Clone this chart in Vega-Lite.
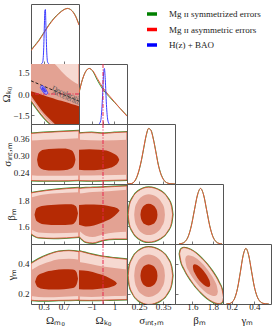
{
"$schema":"https://vega.github.io/schema/vega-lite/v6.json",
"background":"white",
"padding":{"left":0,"top":3,"right":0,"bottom":0},
"columns":5,
"spacing":0,
"bounds":"flush",
"resolve":{"scale":{"x":"independent","y":"independent","color":"independent"},"legend":{"color":"independent"}},
"config":{
 "view":{"stroke":"#555555","strokeWidth":1},
 "axis":{"grid":false,"domain":false,"ticks":true,"tickSize":-3,"tickColor":"#555555","tickWidth":0.8,"labelFont":"Liberation Serif","labelFontSize":9,"labelColor":"#222222","titleFont":"Liberation Serif","titleFontSize":11,"titleFontWeight":"normal","titleColor":"#222222"},
 "axisX":{"labelPadding":1,"titlePadding":3},
 "axisY":{"labelPadding":5,"titlePadding":1}
},
"datasets":{
"c":[
{"p":"mk","l":3,"x":0.05,"lo":-0.45,"hi":2.6},{"p":"mk","l":3,"x":0.15,"lo":-0.95,"hi":2.6},{"p":"mk","l":3,"x":0.25,"lo":-1.42,"hi":2.6},{"p":"mk","l":3,"x":0.35,"lo":-1.82,"hi":2.6},{"p":"mk","l":3,"x":0.45,"lo":-2.15,"hi":2.6},{"p":"mk","l":3,"x":0.55,"lo":-2.45,"hi":2.6},{"p":"mk","l":3,"x":0.65,"lo":-2.7,"hi":2.6},{"p":"mk","l":3,"x":1.0,"lo":-2.7,"hi":2.6},
{"p":"mk","l":2,"x":0.05,"lo":-0.3,"hi":2.6},{"p":"mk","l":2,"x":0.15,"lo":-0.8,"hi":2.6},{"p":"mk","l":2,"x":0.25,"lo":-1.28,"hi":2.6},{"p":"mk","l":2,"x":0.35,"lo":-1.7,"hi":2.5},{"p":"mk","l":2,"x":0.45,"lo":-2.05,"hi":2.3},{"p":"mk","l":2,"x":0.55,"lo":-2.35,"hi":2.0},{"p":"mk","l":2,"x":0.65,"lo":-2.6,"hi":1.6},{"p":"mk","l":2,"x":0.75,"lo":-2.7,"hi":1.25},{"p":"mk","l":2,"x":0.85,"lo":-2.7,"hi":0.97},{"p":"mk","l":2,"x":1.0,"lo":-2.7,"hi":0.65},
{"p":"mk","l":1,"x":0.05,"lo":-0.1,"hi":0.2},{"p":"mk","l":1,"x":0.15,"lo":-0.62,"hi":0.08},{"p":"mk","l":1,"x":0.25,"lo":-1.1,"hi":-0.03},{"p":"mk","l":1,"x":0.35,"lo":-1.5,"hi":-0.15},{"p":"mk","l":1,"x":0.45,"lo":-1.85,"hi":-0.27},{"p":"mk","l":1,"x":0.55,"lo":-2.2,"hi":-0.38},{"p":"mk","l":1,"x":0.65,"lo":-2.5,"hi":-0.48},{"p":"mk","l":1,"x":0.75,"lo":-2.7,"hi":-0.58},{"p":"mk","l":1,"x":0.85,"lo":-2.7,"hi":-0.7},{"p":"mk","l":1,"x":1.0,"lo":-2.7,"hi":-0.85},
{"p":"mkb","l":2,"x":0.235,"lo":0.46,"hi":0.46},{"p":"mkb","l":2,"x":0.25,"lo":0.36,"hi":0.56},{"p":"mkb","l":2,"x":0.27,"lo":0.24,"hi":0.6},{"p":"mkb","l":2,"x":0.29,"lo":0.13,"hi":0.56},{"p":"mkb","l":2,"x":0.32,"lo":0.03,"hi":0.45},{"p":"mkb","l":2,"x":0.35,"lo":-0.02,"hi":0.3},{"p":"mkb","l":2,"x":0.37,"lo":0.0,"hi":0.17},{"p":"mkb","l":2,"x":0.385,"lo":0.07,"hi":0.07},
{"p":"mkb","l":1,"x":0.265,"lo":0.42,"hi":0.42},{"p":"mkb","l":1,"x":0.28,"lo":0.3,"hi":0.48},{"p":"mkb","l":1,"x":0.3,"lo":0.2,"hi":0.42},{"p":"mkb","l":1,"x":0.32,"lo":0.14,"hi":0.33},{"p":"mkb","l":1,"x":0.34,"lo":0.14,"hi":0.2},{"p":"mkb","l":1,"x":0.345,"lo":0.17,"hi":0.17},
{"p":"ms","l":3,"x":0.05,"lo":0.212,"hi":0.377},{"p":"ms","l":3,"x":0.3,"lo":0.211,"hi":0.38},{"p":"ms","l":3,"x":0.6,"lo":0.211,"hi":0.383},{"p":"ms","l":3,"x":1.0,"lo":0.213,"hi":0.386},
{"p":"ms","l":2,"x":0.05,"lo":0.231,"hi":0.352},{"p":"ms","l":2,"x":0.3,"lo":0.229,"hi":0.355},{"p":"ms","l":2,"x":0.6,"lo":0.229,"hi":0.357},{"p":"ms","l":2,"x":1.0,"lo":0.23,"hi":0.36},
{"p":"ms","l":1,"x":0.17,"lo":0.285,"hi":0.285},{"p":"ms","l":1,"x":0.2,"lo":0.262,"hi":0.308},{"p":"ms","l":1,"x":0.3,"lo":0.25,"hi":0.32},{"p":"ms","l":1,"x":0.5,"lo":0.247,"hi":0.323},{"p":"ms","l":1,"x":0.7,"lo":0.248,"hi":0.324},{"p":"ms","l":1,"x":0.85,"lo":0.255,"hi":0.318},{"p":"ms","l":1,"x":0.91,"lo":0.27,"hi":0.302},{"p":"ms","l":1,"x":0.93,"lo":0.285,"hi":0.285},
{"p":"ks","l":3,"x":-2.1,"lo":0.212,"hi":0.378},{"p":"ks","l":3,"x":-1.0,"lo":0.211,"hi":0.38},{"p":"ks","l":3,"x":0.0,"lo":0.212,"hi":0.377},{"p":"ks","l":3,"x":1.0,"lo":0.213,"hi":0.38},{"p":"ks","l":3,"x":2.1,"lo":0.214,"hi":0.382},
{"p":"ks","l":2,"x":-2.1,"lo":0.23,"hi":0.355},{"p":"ks","l":2,"x":0.0,"lo":0.231,"hi":0.352},{"p":"ks","l":2,"x":2.1,"lo":0.232,"hi":0.355},
{"p":"ks","l":1,"x":-2.1,"lo":0.25,"hi":0.32},{"p":"ks","l":1,"x":-1.2,"lo":0.248,"hi":0.322},{"p":"ks","l":1,"x":-0.3,"lo":0.25,"hi":0.32},{"p":"ks","l":1,"x":0.5,"lo":0.255,"hi":0.315},{"p":"ks","l":1,"x":1.0,"lo":0.263,"hi":0.305},{"p":"ks","l":1,"x":1.3,"lo":0.274,"hi":0.295},{"p":"ks","l":1,"x":1.42,"lo":0.285,"hi":0.285},
{"p":"mb","l":3,"x":0.05,"lo":1.54,"hi":1.86},{"p":"mb","l":3,"x":0.2,"lo":1.51,"hi":1.87},{"p":"mb","l":3,"x":0.5,"lo":1.505,"hi":1.885},{"p":"mb","l":3,"x":1.0,"lo":1.515,"hi":1.9},
{"p":"mb","l":2,"x":0.05,"lo":1.575,"hi":1.825},{"p":"mb","l":2,"x":0.2,"lo":1.55,"hi":1.84},{"p":"mb","l":2,"x":0.5,"lo":1.545,"hi":1.855},{"p":"mb","l":2,"x":1.0,"lo":1.55,"hi":1.865},
{"p":"mb","l":1,"x":0.12,"lo":1.69,"hi":1.69},{"p":"mb","l":1,"x":0.16,"lo":1.64,"hi":1.74},{"p":"mb","l":1,"x":0.3,"lo":1.615,"hi":1.76},{"p":"mb","l":1,"x":0.6,"lo":1.608,"hi":1.77},{"p":"mb","l":1,"x":0.85,"lo":1.612,"hi":1.772},{"p":"mb","l":1,"x":0.94,"lo":1.64,"hi":1.755},{"p":"mb","l":1,"x":0.98,"lo":1.7,"hi":1.7},
{"p":"kb","l":3,"x":-2.1,"lo":1.52,"hi":1.895},{"p":"kb","l":3,"x":-1.5,"lo":1.475,"hi":1.9},{"p":"kb","l":3,"x":-0.9,"lo":1.468,"hi":1.902},{"p":"kb","l":3,"x":0.0,"lo":1.49,"hi":1.905},{"p":"kb","l":3,"x":1.0,"lo":1.5,"hi":1.91},{"p":"kb","l":3,"x":2.1,"lo":1.5,"hi":1.915},
{"p":"kb","l":2,"x":-2.1,"lo":1.565,"hi":1.855},{"p":"kb","l":2,"x":-1.5,"lo":1.525,"hi":1.862},{"p":"kb","l":2,"x":-0.9,"lo":1.515,"hi":1.867},{"p":"kb","l":2,"x":0.0,"lo":1.535,"hi":1.872},{"p":"kb","l":2,"x":1.0,"lo":1.55,"hi":1.878},{"p":"kb","l":2,"x":2.1,"lo":1.555,"hi":1.885},
{"p":"kb","l":1,"x":-2.1,"lo":1.61,"hi":1.765},{"p":"kb","l":1,"x":-1.5,"lo":1.598,"hi":1.77},{"p":"kb","l":1,"x":-0.8,"lo":1.605,"hi":1.77},{"p":"kb","l":1,"x":0.0,"lo":1.63,"hi":1.765},{"p":"kb","l":1,"x":0.8,"lo":1.665,"hi":1.752},{"p":"kb","l":1,"x":1.25,"lo":1.7,"hi":1.74},{"p":"kb","l":1,"x":1.45,"lo":1.722,"hi":1.722},
{"p":"sb","l":3,"x":0.205,"lo":1.69,"hi":1.69},{"p":"sb","l":3,"x":0.2093,"lo":1.623,"hi":1.757},{"p":"sb","l":3,"x":0.222,"lo":1.561,"hi":1.819},{"p":"sb","l":3,"x":0.2475,"lo":1.504,"hi":1.876},{"p":"sb","l":3,"x":0.29,"lo":1.475,"hi":1.905},{"p":"sb","l":3,"x":0.34,"lo":1.504,"hi":1.876},{"p":"sb","l":3,"x":0.37,"lo":1.561,"hi":1.819},{"p":"sb","l":3,"x":0.385,"lo":1.623,"hi":1.757},{"p":"sb","l":3,"x":0.39,"lo":1.69,"hi":1.69},
{"p":"sb","l":2,"x":0.23,"lo":1.69,"hi":1.69},{"p":"sb","l":2,"x":0.233,"lo":1.64,"hi":1.74},{"p":"sb","l":2,"x":0.242,"lo":1.594,"hi":1.786},{"p":"sb","l":2,"x":0.26,"lo":1.551,"hi":1.829},{"p":"sb","l":2,"x":0.29,"lo":1.53,"hi":1.85},{"p":"sb","l":2,"x":0.324,"lo":1.551,"hi":1.829},{"p":"sb","l":2,"x":0.344,"lo":1.594,"hi":1.786},{"p":"sb","l":2,"x":0.355,"lo":1.64,"hi":1.74},{"p":"sb","l":2,"x":0.358,"lo":1.69,"hi":1.69},
{"p":"sb","l":1,"x":0.256,"lo":1.69,"hi":1.69},{"p":"sb","l":1,"x":0.258,"lo":1.664,"hi":1.717},{"p":"sb","l":1,"x":0.263,"lo":1.639,"hi":1.741},{"p":"sb","l":1,"x":0.273,"lo":1.616,"hi":1.764},{"p":"sb","l":1,"x":0.29,"lo":1.605,"hi":1.775},{"p":"sb","l":1,"x":0.3085,"lo":1.616,"hi":1.764},{"p":"sb","l":1,"x":0.3196,"lo":1.639,"hi":1.741},{"p":"sb","l":1,"x":0.3252,"lo":1.664,"hi":1.717},{"p":"sb","l":1,"x":0.327,"lo":1.69,"hi":1.69},
{"p":"mg","l":3,"x":0.05,"lo":0.158,"hi":0.4},{"p":"mg","l":3,"x":0.2,"lo":0.155,"hi":0.43},{"p":"mg","l":3,"x":0.4,"lo":0.155,"hi":0.46},{"p":"mg","l":3,"x":0.6,"lo":0.157,"hi":0.48},{"p":"mg","l":3,"x":0.8,"lo":0.158,"hi":0.485},{"p":"mg","l":3,"x":1.0,"lo":0.16,"hi":0.478},
{"p":"mg","l":2,"x":0.05,"lo":0.185,"hi":0.355},{"p":"mg","l":2,"x":0.2,"lo":0.18,"hi":0.385},{"p":"mg","l":2,"x":0.4,"lo":0.178,"hi":0.41},{"p":"mg","l":2,"x":0.6,"lo":0.18,"hi":0.428},{"p":"mg","l":2,"x":0.8,"lo":0.182,"hi":0.432},{"p":"mg","l":2,"x":1.0,"lo":0.185,"hi":0.425},
{"p":"mg","l":1,"x":0.13,"lo":0.28,"hi":0.28},{"p":"mg","l":1,"x":0.18,"lo":0.245,"hi":0.32},{"p":"mg","l":1,"x":0.3,"lo":0.232,"hi":0.34},{"p":"mg","l":1,"x":0.5,"lo":0.228,"hi":0.355},{"p":"mg","l":1,"x":0.7,"lo":0.23,"hi":0.362},{"p":"mg","l":1,"x":0.88,"lo":0.238,"hi":0.36},{"p":"mg","l":1,"x":0.95,"lo":0.26,"hi":0.345},{"p":"mg","l":1,"x":0.98,"lo":0.3,"hi":0.3},
{"p":"kg","l":3,"x":-2.1,"lo":0.158,"hi":0.483},{"p":"kg","l":3,"x":-1.2,"lo":0.157,"hi":0.465},{"p":"kg","l":3,"x":-0.3,"lo":0.158,"hi":0.45},{"p":"kg","l":3,"x":0.6,"lo":0.16,"hi":0.44},{"p":"kg","l":3,"x":2.1,"lo":0.162,"hi":0.428},
{"p":"kg","l":2,"x":-2.1,"lo":0.182,"hi":0.41},{"p":"kg","l":2,"x":-1.0,"lo":0.18,"hi":0.395},{"p":"kg","l":2,"x":0.0,"lo":0.182,"hi":0.38},{"p":"kg","l":2,"x":1.0,"lo":0.185,"hi":0.37},{"p":"kg","l":2,"x":2.1,"lo":0.188,"hi":0.36},
{"p":"kg","l":1,"x":-2.1,"lo":0.23,"hi":0.355},{"p":"kg","l":1,"x":-1.3,"lo":0.228,"hi":0.35},{"p":"kg","l":1,"x":-0.5,"lo":0.232,"hi":0.335},{"p":"kg","l":1,"x":0.3,"lo":0.238,"hi":0.315},{"p":"kg","l":1,"x":0.8,"lo":0.248,"hi":0.295},{"p":"kg","l":1,"x":1.1,"lo":0.258,"hi":0.28},{"p":"kg","l":1,"x":1.22,"lo":0.268,"hi":0.268},
{"p":"sg","l":3,"x":0.205,"lo":0.32,"hi":0.32},{"p":"sg","l":3,"x":0.2093,"lo":0.2607,"hi":0.3793},{"p":"sg","l":3,"x":0.222,"lo":0.206,"hi":0.434},{"p":"sg","l":3,"x":0.2475,"lo":0.1555,"hi":0.4845},{"p":"sg","l":3,"x":0.29,"lo":0.13,"hi":0.51},{"p":"sg","l":3,"x":0.34,"lo":0.1555,"hi":0.4845},{"p":"sg","l":3,"x":0.37,"lo":0.206,"hi":0.434},{"p":"sg","l":3,"x":0.385,"lo":0.2607,"hi":0.3793},{"p":"sg","l":3,"x":0.39,"lo":0.32,"hi":0.32},
{"p":"sg","l":2,"x":0.23,"lo":0.32,"hi":0.32},{"p":"sg","l":2,"x":0.233,"lo":0.2763,"hi":0.3637},{"p":"sg","l":2,"x":0.242,"lo":0.236,"hi":0.404},{"p":"sg","l":2,"x":0.26,"lo":0.1988,"hi":0.4412},{"p":"sg","l":2,"x":0.29,"lo":0.18,"hi":0.46},{"p":"sg","l":2,"x":0.324,"lo":0.1988,"hi":0.4412},{"p":"sg","l":2,"x":0.344,"lo":0.236,"hi":0.404},{"p":"sg","l":2,"x":0.355,"lo":0.2763,"hi":0.3637},{"p":"sg","l":2,"x":0.358,"lo":0.32,"hi":0.32},
{"p":"sg","l":1,"x":0.256,"lo":0.32,"hi":0.32},{"p":"sg","l":1,"x":0.258,"lo":0.2966,"hi":0.3434},{"p":"sg","l":1,"x":0.263,"lo":0.275,"hi":0.365},{"p":"sg","l":1,"x":0.273,"lo":0.255,"hi":0.385},{"p":"sg","l":1,"x":0.29,"lo":0.245,"hi":0.395},{"p":"sg","l":1,"x":0.3085,"lo":0.255,"hi":0.385},{"p":"sg","l":1,"x":0.3196,"lo":0.275,"hi":0.365},{"p":"sg","l":1,"x":0.3252,"lo":0.2966,"hi":0.3434},{"p":"sg","l":1,"x":0.327,"lo":0.32,"hi":0.32},
{"p":"bg","l":3,"x":1.475,"lo":0.464,"hi":0.464},{"p":"bg","l":3,"x":1.486,"lo":0.421,"hi":0.493},{"p":"bg","l":3,"x":1.518,"lo":0.366,"hi":0.505},{"p":"bg","l":3,"x":1.5825,"lo":0.292,"hi":0.4925},{"p":"bg","l":3,"x":1.69,"lo":0.204,"hi":0.436},{"p":"bg","l":3,"x":1.7975,"lo":0.148,"hi":0.348},{"p":"bg","l":3,"x":1.862,"lo":0.135,"hi":0.274},{"p":"bg","l":3,"x":1.894,"lo":0.147,"hi":0.219},{"p":"bg","l":3,"x":1.905,"lo":0.176,"hi":0.176},
{"p":"bg","l":2,"x":1.53,"lo":0.425,"hi":0.425},{"p":"bg","l":2,"x":1.538,"lo":0.394,"hi":0.446},{"p":"bg","l":2,"x":1.562,"lo":0.3535,"hi":0.455},{"p":"bg","l":2,"x":1.61,"lo":0.2995,"hi":0.446},{"p":"bg","l":2,"x":1.69,"lo":0.2355,"hi":0.4045},{"p":"bg","l":2,"x":1.77,"lo":0.194,"hi":0.34},{"p":"bg","l":2,"x":1.818,"lo":0.185,"hi":0.2865},{"p":"bg","l":2,"x":1.842,"lo":0.194,"hi":0.246},{"p":"bg","l":2,"x":1.85,"lo":0.215,"hi":0.215},
{"p":"bg","l":1,"x":1.605,"lo":0.3785,"hi":0.3785},{"p":"bg","l":1,"x":1.609,"lo":0.361,"hi":0.39},{"p":"bg","l":1,"x":1.622,"lo":0.3386,"hi":0.395},{"p":"bg","l":1,"x":1.6475,"lo":0.3086,"hi":0.39},{"p":"bg","l":1,"x":1.69,"lo":0.273,"hi":0.367},{"p":"bg","l":1,"x":1.7325,"lo":0.25,"hi":0.3315},{"p":"bg","l":1,"x":1.758,"lo":0.245,"hi":0.3014},{"p":"bg","l":1,"x":1.771,"lo":0.2498,"hi":0.279},{"p":"bg","l":1,"x":1.775,"lo":0.2615,"hi":0.2615}
],
"d":[
{"p":"m","s":"g","x":0.05,"y":0.25},{"p":"m","s":"g","x":0.12,"y":0.33},{"p":"m","s":"g","x":0.2,"y":0.42},{"p":"m","s":"g","x":0.3,"y":0.56},{"p":"m","s":"g","x":0.4,"y":0.7},{"p":"m","s":"g","x":0.5,"y":0.82},{"p":"m","s":"g","x":0.6,"y":0.91},{"p":"m","s":"g","x":0.7,"y":0.98},{"p":"m","s":"g","x":0.77,"y":1.0},{"p":"m","s":"g","x":0.85,"y":0.97},{"p":"m","s":"g","x":0.93,"y":0.87},{"p":"m","s":"g","x":1.0,"y":0.71},
{"p":"m","s":"r","x":0.05,"y":0.24},{"p":"m","s":"r","x":0.12,"y":0.32},{"p":"m","s":"r","x":0.2,"y":0.41},{"p":"m","s":"r","x":0.3,"y":0.55},{"p":"m","s":"r","x":0.4,"y":0.69},{"p":"m","s":"r","x":0.5,"y":0.81},{"p":"m","s":"r","x":0.6,"y":0.905},{"p":"m","s":"r","x":0.7,"y":0.975},{"p":"m","s":"r","x":0.77,"y":1.0},{"p":"m","s":"r","x":0.85,"y":0.965},{"p":"m","s":"r","x":0.93,"y":0.86},{"p":"m","s":"r","x":1.0,"y":0.7},
{"p":"m","s":"b","x":0.25,"y":0},{"p":"m","s":"b","x":0.28,"y":0.03},{"p":"m","s":"b","x":0.3,"y":0.25},{"p":"m","s":"b","x":0.315,"y":0.7},{"p":"m","s":"b","x":0.325,"y":0.97},{"p":"m","s":"b","x":0.335,"y":0.98},{"p":"m","s":"b","x":0.345,"y":0.7},{"p":"m","s":"b","x":0.36,"y":0.25},{"p":"m","s":"b","x":0.38,"y":0.03},{"p":"m","s":"b","x":0.41,"y":0},
{"p":"k","s":"g","x":-2.1,"y":0.56},{"p":"k","s":"g","x":-1.8,"y":0.8},{"p":"k","s":"g","x":-1.5,"y":0.95},{"p":"k","s":"g","x":-1.2,"y":1.0},{"p":"k","s":"g","x":-0.9,"y":0.95},{"p":"k","s":"g","x":-0.5,"y":0.79},{"p":"k","s":"g","x":0.0,"y":0.62},{"p":"k","s":"g","x":0.5,"y":0.5},{"p":"k","s":"g","x":1.0,"y":0.39},{"p":"k","s":"g","x":1.5,"y":0.28},{"p":"k","s":"g","x":2.1,"y":0.15},
{"p":"k","s":"r","x":-2.1,"y":0.56},{"p":"k","s":"r","x":-1.8,"y":0.8},{"p":"k","s":"r","x":-1.5,"y":0.95},{"p":"k","s":"r","x":-1.2,"y":1.0},{"p":"k","s":"r","x":-0.9,"y":0.96},{"p":"k","s":"r","x":-0.5,"y":0.82},{"p":"k","s":"r","x":0.0,"y":0.65},{"p":"k","s":"r","x":0.5,"y":0.52},{"p":"k","s":"r","x":1.0,"y":0.4},{"p":"k","s":"r","x":1.5,"y":0.28},{"p":"k","s":"r","x":2.1,"y":0.14},
{"p":"k","s":"b","x":-0.35,"y":0},{"p":"k","s":"b","x":-0.2,"y":0.06},{"p":"k","s":"b","x":-0.05,"y":0.45},{"p":"k","s":"b","x":0.05,"y":0.9},{"p":"k","s":"b","x":0.12,"y":1.0},{"p":"k","s":"b","x":0.2,"y":0.8},{"p":"k","s":"b","x":0.3,"y":0.35},{"p":"k","s":"b","x":0.42,"y":0.07},{"p":"k","s":"b","x":0.55,"y":0},
{"p":"s","s":"g","x":0.2,"y":0},{"p":"s","s":"g","x":0.22,"y":0.01},{"p":"s","s":"g","x":0.24,"y":0.11},{"p":"s","s":"g","x":0.25,"y":0.24},{"p":"s","s":"g","x":0.26,"y":0.42},{"p":"s","s":"g","x":0.27,"y":0.65},{"p":"s","s":"g","x":0.28,"y":0.87},{"p":"s","s":"g","x":0.29,"y":1.0},{"p":"s","s":"g","x":0.3,"y":0.97},{"p":"s","s":"g","x":0.31,"y":0.81},{"p":"s","s":"g","x":0.32,"y":0.59},{"p":"s","s":"g","x":0.33,"y":0.36},{"p":"s","s":"g","x":0.34,"y":0.2},{"p":"s","s":"g","x":0.35,"y":0.1},{"p":"s","s":"g","x":0.36,"y":0.04},{"p":"s","s":"g","x":0.38,"y":0.006},{"p":"s","s":"g","x":0.4,"y":0},
{"p":"s","s":"r","x":0.2,"y":0},{"p":"s","s":"r","x":0.22,"y":0.01},{"p":"s","s":"r","x":0.24,"y":0.12},{"p":"s","s":"r","x":0.25,"y":0.25},{"p":"s","s":"r","x":0.26,"y":0.43},{"p":"s","s":"r","x":0.27,"y":0.66},{"p":"s","s":"r","x":0.28,"y":0.88},{"p":"s","s":"r","x":0.29,"y":1.0},{"p":"s","s":"r","x":0.3,"y":0.96},{"p":"s","s":"r","x":0.31,"y":0.8},{"p":"s","s":"r","x":0.32,"y":0.58},{"p":"s","s":"r","x":0.33,"y":0.35},{"p":"s","s":"r","x":0.34,"y":0.19},{"p":"s","s":"r","x":0.35,"y":0.09},{"p":"s","s":"r","x":0.36,"y":0.04},{"p":"s","s":"r","x":0.38,"y":0.005},{"p":"s","s":"r","x":0.4,"y":0},
{"p":"b","s":"g","x":1.47,"y":0.003},{"p":"b","s":"g","x":1.5,"y":0.013},{"p":"b","s":"g","x":1.53,"y":0.048},{"p":"b","s":"g","x":1.56,"y":0.14},{"p":"b","s":"g","x":1.59,"y":0.33},{"p":"b","s":"g","x":1.62,"y":0.61},{"p":"b","s":"g","x":1.65,"y":0.88},{"p":"b","s":"g","x":1.68,"y":1.0},{"p":"b","s":"g","x":1.71,"y":0.885},{"p":"b","s":"g","x":1.74,"y":0.61},{"p":"b","s":"g","x":1.77,"y":0.33},{"p":"b","s":"g","x":1.8,"y":0.14},{"p":"b","s":"g","x":1.83,"y":0.047},{"p":"b","s":"g","x":1.86,"y":0.012},{"p":"b","s":"g","x":1.89,"y":0.003},
{"p":"b","s":"r","x":1.47,"y":0.002},{"p":"b","s":"r","x":1.5,"y":0.011},{"p":"b","s":"r","x":1.53,"y":0.044},{"p":"b","s":"r","x":1.56,"y":0.135},{"p":"b","s":"r","x":1.59,"y":0.325},{"p":"b","s":"r","x":1.62,"y":0.607},{"p":"b","s":"r","x":1.65,"y":0.882},{"p":"b","s":"r","x":1.68,"y":1.0},{"p":"b","s":"r","x":1.71,"y":0.882},{"p":"b","s":"r","x":1.74,"y":0.607},{"p":"b","s":"r","x":1.77,"y":0.325},{"p":"b","s":"r","x":1.8,"y":0.135},{"p":"b","s":"r","x":1.83,"y":0.044},{"p":"b","s":"r","x":1.86,"y":0.011},{"p":"b","s":"r","x":1.89,"y":0.002},
{"p":"g","s":"g","x":0.15,"y":0.002},{"p":"g","s":"g","x":0.175,"y":0.007},{"p":"g","s":"g","x":0.2,"y":0.031},{"p":"g","s":"g","x":0.225,"y":0.107},{"p":"g","s":"g","x":0.25,"y":0.283},{"p":"g","s":"g","x":0.275,"y":0.57},{"p":"g","s":"g","x":0.3,"y":0.87},{"p":"g","s":"g","x":0.325,"y":1.0},{"p":"g","s":"g","x":0.35,"y":0.875},{"p":"g","s":"g","x":0.375,"y":0.595},{"p":"g","s":"g","x":0.4,"y":0.315},{"p":"g","s":"g","x":0.425,"y":0.138},{"p":"g","s":"g","x":0.45,"y":0.05},{"p":"g","s":"g","x":0.475,"y":0.016},{"p":"g","s":"g","x":0.5,"y":0.004},{"p":"g","s":"g","x":0.53,"y":0},
{"p":"g","s":"r","x":0.15,"y":0.001},{"p":"g","s":"r","x":0.175,"y":0.006},{"p":"g","s":"r","x":0.2,"y":0.029},{"p":"g","s":"r","x":0.225,"y":0.104},{"p":"g","s":"r","x":0.25,"y":0.279},{"p":"g","s":"r","x":0.275,"y":0.567},{"p":"g","s":"r","x":0.3,"y":0.868},{"p":"g","s":"r","x":0.325,"y":1.0},{"p":"g","s":"r","x":0.35,"y":0.88},{"p":"g","s":"r","x":0.375,"y":0.6},{"p":"g","s":"r","x":0.4,"y":0.32},{"p":"g","s":"r","x":0.425,"y":0.14},{"p":"g","s":"r","x":0.45,"y":0.05},{"p":"g","s":"r","x":0.475,"y":0.015},{"p":"g","s":"r","x":0.5,"y":0.004},{"p":"g","s":"r","x":0.53,"y":0}
]
},
"concat":[
{"width":48,"height":60,"data":{"name":"d"},"transform":[{"filter":"datum.p=='m'"}],"mark":{"type":"line","interpolate":"monotone","strokeWidth":1,"clip":true},"encoding":{"x":{"field":"x","type":"quantitative","scale":{"domain":[0.05,1.0],"nice":false,"zero":false},"axis":{"values":[0.3,0.7],"labels":false,"title":null}},"y":{"field":"y","type":"quantitative","scale":{"domain":[0,1.08],"nice":false},"axis":null},"stroke":{"field":"s","type":"nominal","scale":{"domain":["g","r","b"],"range":["#3c9b3c","#e8573c","#3b3bff"]},"legend":null}}},
{"width":48,"height":60,"view":{"stroke":null},"data":{"values":[]},"mark":"point"},
{"width":48,"height":60,"view":{"stroke":null},"data":{"values":[{"s":"Mg ɪɪ symmetrized errors"},{"s":"Mg ɪɪ asymmetric errors"},{"s":"H(z) + BAO"}]},"mark":{"type":"point","filled":true,"opacity":0},"encoding":{"color":{"field":"s","type":"nominal","scale":{"domain":["Mg ɪɪ symmetrized errors","Mg ɪɪ asymmetric errors","H(z) + BAO"],"range":["#008000","#ff0000","#0000ff"]},"legend":{"orient":"none","legendX":20,"legendY":5,"title":null,"symbolType":"M-1,-0.35L1,-0.35L1,0.35L-1,0.35Z","symbolSize":100,"symbolOpacity":1,"symbolStrokeWidth":0,"labelFont":"Liberation Serif","labelFontSize":9,"labelColor":"#222222","labelOffset":12,"rowPadding":5.5,"padding":0,"labelLimit":200}}}},
{"width":48,"height":60,"view":{"stroke":null},"data":{"values":[]},"mark":"point"},
{"width":48,"height":60,"view":{"stroke":null},"data":{"values":[]},"mark":"point"},

{"width":48,"height":60,"data":{"name":"c"},"layer":[
{"transform":[{"filter":"datum.p=='mk' && datum.l==3"}],"mark":{"type":"area","clip":true,"interpolate":"monotone","fill":"transparent","stroke":"#3a9a3a","strokeWidth":2},"encoding":{"x":{"field":"x","type":"quantitative","scale":{"domain":[0.05,1.0],"nice":false,"zero":false},"axis":{"values":[0.3,0.7],"labels":false,"title":null}},"y":{"field":"lo","type":"quantitative","stack":null,"scale":{"domain":[-2.1,2.1],"nice":false,"zero":false},"axis":{"values":[-1.5,0,1.5],"format":".1f","title":"Ωₖ₀"}},"y2":{"field":"hi"}}},
{"transform":[{"filter":"datum.p=='mk'"}],"mark":{"type":"area","clip":true,"interpolate":"monotone","strokeWidth":0.8},"encoding":{"x":{"field":"x","type":"quantitative","scale":{"domain":[0.05,1.0],"nice":false,"zero":false},"axis":{"values":[0.3,0.7],"labels":false,"title":null}},"y":{"field":"lo","type":"quantitative","stack":null,"scale":{"domain":[-2.1,2.1],"nice":false,"zero":false},"axis":{"values":[-1.5,0,1.5],"format":".1f","title":"Ωₖ₀"}},"y2":{"field":"hi"},"fill":{"field":"l","type":"nominal","scale":{"domain":[3,2,1],"range":["#f6d9d1","#e3a293","#b52a04"]},"legend":null},"stroke":{"condition":{"test":"datum.l==3","value":"#d9452b"},"value":"transparent"}}},
{"data":{"values":[{"v":0}]},"mark":{"type":"rule","stroke":"#e8264f","strokeWidth":1,"strokeDash":[4,1.5,1,1.5]},"encoding":{"y":{"field":"v","type":"quantitative","scale":{"domain":[-2.1,2.1],"nice":false,"zero":false},"axis":{"values":[-1.5,0,1.5],"format":".1f","title":"Ωₖ₀"}}}},
{"data":{"values":[{"x":0.05,"y":0.925},{"x":1.0,"y":-0.5}]},"mark":{"type":"line","stroke":"#111111","strokeWidth":0.9,"strokeDash":[3,2],"clip":true},"encoding":{"x":{"field":"x","type":"quantitative","scale":{"domain":[0.05,1.0],"nice":false,"zero":false},"axis":{"values":[0.3,0.7],"labels":false,"title":null}},"y":{"field":"y","type":"quantitative","scale":{"domain":[-2.1,2.1],"nice":false,"zero":false},"axis":{"values":[-1.5,0,1.5],"format":".1f","title":"Ωₖ₀"}}}},
{"data":{"values":[{"x":0.47,"y":0.42,"t":"Decelerating"},{"x":0.47,"y":0.18,"t":"Accelerating"}]},"mark":{"type":"text","angle":23,"align":"left","baseline":"middle","fontSize":7,"font":"Liberation Serif","fill":"#555555","clip":true},"encoding":{"x":{"field":"x","type":"quantitative","scale":{"domain":[0.05,1.0],"nice":false,"zero":false},"axis":{"values":[0.3,0.7],"labels":false,"title":null}},"y":{"field":"y","type":"quantitative","scale":{"domain":[-2.1,2.1],"nice":false,"zero":false},"axis":{"values":[-1.5,0,1.5],"format":".1f","title":"Ωₖ₀"}},"text":{"field":"t"}}},
{"transform":[{"filter":"datum.p=='mkb'"}],"mark":{"type":"area","clip":true,"interpolate":"monotone","stroke":"#2424ff","strokeWidth":0.7},"encoding":{"x":{"field":"x","type":"quantitative","scale":{"domain":[0.05,1.0],"nice":false,"zero":false},"axis":{"values":[0.3,0.7],"labels":false,"title":null}},"y":{"field":"lo","type":"quantitative","stack":null,"scale":{"domain":[-2.1,2.1],"nice":false,"zero":false},"axis":{"values":[-1.5,0,1.5],"format":".1f","title":"Ωₖ₀"}},"y2":{"field":"hi"},"detail":{"field":"l"},"fill":{"condition":{"test":"datum.l==2","value":"#b4a9ee"},"value":"#5a4fe6"}}}
]},
{"width":48,"height":60,"data":{"name":"d"},"layer":[
{"transform":[{"filter":"datum.p=='k'"}],"mark":{"type":"line","interpolate":"monotone","strokeWidth":1,"clip":true},"encoding":{"x":{"field":"x","type":"quantitative","scale":{"domain":[-2.1,2.1],"nice":false,"zero":false},"axis":{"values":[-1,0,1],"labels":false,"title":null}},"y":{"field":"y","type":"quantitative","scale":{"domain":[0,1.08],"nice":false},"axis":null},"stroke":{"field":"s","type":"nominal","scale":{"domain":["g","r","b"],"range":["#3c9b3c","#e8573c","#3b3bff"]},"legend":null}}},
{"data":{"values":[{"v":0}]},"mark":{"type":"rule","stroke":"#e8264f","strokeWidth":1,"strokeDash":[4,1.5,1,1.5]},"encoding":{"x":{"field":"v","type":"quantitative","scale":{"domain":[-2.1,2.1],"nice":false,"zero":false},"axis":{"values":[-1,0,1],"labels":false,"title":null}}}}
]},
{"width":48,"height":60,"view":{"stroke":null},"data":{"values":[]},"mark":"point"},
{"width":48,"height":60,"view":{"stroke":null},"data":{"values":[]},"mark":"point"},
{"width":48,"height":60,"view":{"stroke":null},"data":{"values":[]},"mark":"point"},

{"width":48,"height":60,"data":{"name":"c"},"layer":[
{"transform":[{"filter":"datum.p=='ms' && datum.l==3"}],"mark":{"type":"area","clip":true,"interpolate":"monotone","fill":"transparent","stroke":"#3a9a3a","strokeWidth":2},"encoding":{"x":{"field":"x","type":"quantitative","scale":{"domain":[0.05,1.0],"nice":false,"zero":false},"axis":{"values":[0.3,0.7],"labels":false,"title":null}},"y":{"field":"lo","type":"quantitative","stack":null,"scale":{"domain":[0.2,0.41],"nice":false,"zero":false},"axis":{"values":[0.24,0.3,0.36],"format":".2f","title":"σᵢₙₜ,ₘ"}},"y2":{"field":"hi"}}},
{"transform":[{"filter":"datum.p=='ms'"}],"mark":{"type":"area","clip":true,"interpolate":"monotone","strokeWidth":0.8},"encoding":{"x":{"field":"x","type":"quantitative","scale":{"domain":[0.05,1.0],"nice":false,"zero":false},"axis":{"values":[0.3,0.7],"labels":false,"title":null}},"y":{"field":"lo","type":"quantitative","stack":null,"scale":{"domain":[0.2,0.41],"nice":false,"zero":false},"axis":{"values":[0.24,0.3,0.36],"format":".2f","title":"σᵢₙₜ,ₘ"}},"y2":{"field":"hi"},"fill":{"field":"l","type":"nominal","scale":{"domain":[3,2,1],"range":["#f6d9d1","#e3a293","#b52a04"]},"legend":null},"stroke":{"condition":{"test":"datum.l==3","value":"#d9452b"},"value":"transparent"}}}
]},
{"width":48,"height":60,"data":{"name":"c"},"layer":[
{"transform":[{"filter":"datum.p=='ks' && datum.l==3"}],"mark":{"type":"area","clip":true,"interpolate":"monotone","fill":"transparent","stroke":"#3a9a3a","strokeWidth":2},"encoding":{"x":{"field":"x","type":"quantitative","scale":{"domain":[-2.1,2.1],"nice":false,"zero":false},"axis":{"values":[-1,0,1],"labels":false,"title":null}},"y":{"field":"lo","type":"quantitative","stack":null,"scale":{"domain":[0.2,0.41],"nice":false,"zero":false},"axis":{"values":[0.24,0.3,0.36],"labels":false,"title":null}},"y2":{"field":"hi"}}},
{"transform":[{"filter":"datum.p=='ks'"}],"mark":{"type":"area","clip":true,"interpolate":"monotone","strokeWidth":0.8},"encoding":{"x":{"field":"x","type":"quantitative","scale":{"domain":[-2.1,2.1],"nice":false,"zero":false},"axis":{"values":[-1,0,1],"labels":false,"title":null}},"y":{"field":"lo","type":"quantitative","stack":null,"scale":{"domain":[0.2,0.41],"nice":false,"zero":false},"axis":{"values":[0.24,0.3,0.36],"labels":false,"title":null}},"y2":{"field":"hi"},"fill":{"field":"l","type":"nominal","scale":{"domain":[3,2,1],"range":["#f6d9d1","#e3a293","#b52a04"]},"legend":null},"stroke":{"condition":{"test":"datum.l==3","value":"#d9452b"},"value":"transparent"}}},
{"data":{"values":[{"v":0}]},"mark":{"type":"rule","stroke":"#e8264f","strokeWidth":1,"strokeDash":[4,1.5,1,1.5]},"encoding":{"x":{"field":"v","type":"quantitative","scale":{"domain":[-2.1,2.1],"nice":false,"zero":false},"axis":{"values":[-1,0,1],"labels":false,"title":null}}}}
]},
{"width":48,"height":60,"data":{"name":"d"},"transform":[{"filter":"datum.p=='s'"}],"mark":{"type":"line","interpolate":"monotone","strokeWidth":1,"clip":true},"encoding":{"x":{"field":"x","type":"quantitative","scale":{"domain":[0.2,0.4],"nice":false,"zero":false},"axis":{"values":[0.25,0.35],"labels":false,"title":null}},"y":{"field":"y","type":"quantitative","scale":{"domain":[0,1.08],"nice":false},"axis":null},"stroke":{"field":"s","type":"nominal","scale":{"domain":["g","r","b"],"range":["#3c9b3c","#e8573c","#3b3bff"]},"legend":null}}},
{"width":48,"height":60,"view":{"stroke":null},"data":{"values":[]},"mark":"point"},
{"width":48,"height":60,"view":{"stroke":null},"data":{"values":[]},"mark":"point"},

{"width":48,"height":60,"data":{"name":"c"},"layer":[
{"transform":[{"filter":"datum.p=='mb' && datum.l==3"}],"mark":{"type":"area","clip":true,"interpolate":"monotone","fill":"transparent","stroke":"#3a9a3a","strokeWidth":2},"encoding":{"x":{"field":"x","type":"quantitative","scale":{"domain":[0.05,1.0],"nice":false,"zero":false},"axis":{"values":[0.3,0.7],"labels":false,"title":null}},"y":{"field":"lo","type":"quantitative","stack":null,"scale":{"domain":[1.46,1.93],"nice":false,"zero":false},"axis":{"values":[1.6,1.8],"format":".1f","title":"βₘ"}},"y2":{"field":"hi"}}},
{"transform":[{"filter":"datum.p=='mb'"}],"mark":{"type":"area","clip":true,"interpolate":"monotone","strokeWidth":0.8},"encoding":{"x":{"field":"x","type":"quantitative","scale":{"domain":[0.05,1.0],"nice":false,"zero":false},"axis":{"values":[0.3,0.7],"labels":false,"title":null}},"y":{"field":"lo","type":"quantitative","stack":null,"scale":{"domain":[1.46,1.93],"nice":false,"zero":false},"axis":{"values":[1.6,1.8],"format":".1f","title":"βₘ"}},"y2":{"field":"hi"},"fill":{"field":"l","type":"nominal","scale":{"domain":[3,2,1],"range":["#f6d9d1","#e3a293","#b52a04"]},"legend":null},"stroke":{"condition":{"test":"datum.l==3","value":"#d9452b"},"value":"transparent"}}}
]},
{"width":48,"height":60,"data":{"name":"c"},"layer":[
{"transform":[{"filter":"datum.p=='kb' && datum.l==3"}],"mark":{"type":"area","clip":true,"interpolate":"monotone","fill":"transparent","stroke":"#3a9a3a","strokeWidth":2},"encoding":{"x":{"field":"x","type":"quantitative","scale":{"domain":[-2.1,2.1],"nice":false,"zero":false},"axis":{"values":[-1,0,1],"labels":false,"title":null}},"y":{"field":"lo","type":"quantitative","stack":null,"scale":{"domain":[1.46,1.93],"nice":false,"zero":false},"axis":{"values":[1.6,1.8],"labels":false,"title":null}},"y2":{"field":"hi"}}},
{"transform":[{"filter":"datum.p=='kb'"}],"mark":{"type":"area","clip":true,"interpolate":"monotone","strokeWidth":0.8},"encoding":{"x":{"field":"x","type":"quantitative","scale":{"domain":[-2.1,2.1],"nice":false,"zero":false},"axis":{"values":[-1,0,1],"labels":false,"title":null}},"y":{"field":"lo","type":"quantitative","stack":null,"scale":{"domain":[1.46,1.93],"nice":false,"zero":false},"axis":{"values":[1.6,1.8],"labels":false,"title":null}},"y2":{"field":"hi"},"fill":{"field":"l","type":"nominal","scale":{"domain":[3,2,1],"range":["#f6d9d1","#e3a293","#b52a04"]},"legend":null},"stroke":{"condition":{"test":"datum.l==3","value":"#d9452b"},"value":"transparent"}}},
{"data":{"values":[{"v":0}]},"mark":{"type":"rule","stroke":"#e8264f","strokeWidth":1,"strokeDash":[4,1.5,1,1.5]},"encoding":{"x":{"field":"v","type":"quantitative","scale":{"domain":[-2.1,2.1],"nice":false,"zero":false},"axis":{"values":[-1,0,1],"labels":false,"title":null}}}}
]},
{"width":48,"height":60,"data":{"name":"c"},"layer":[
{"transform":[{"filter":"datum.p=='sb' && datum.l==3"}],"mark":{"type":"area","clip":true,"interpolate":"monotone","fill":"transparent","stroke":"#3a9a3a","strokeWidth":2},"encoding":{"x":{"field":"x","type":"quantitative","scale":{"domain":[0.2,0.4],"nice":false,"zero":false},"axis":{"values":[0.25,0.35],"labels":false,"title":null}},"y":{"field":"lo","type":"quantitative","stack":null,"scale":{"domain":[1.46,1.93],"nice":false,"zero":false},"axis":{"values":[1.6,1.8],"labels":false,"title":null}},"y2":{"field":"hi"}}},
{"transform":[{"filter":"datum.p=='sb'"}],"mark":{"type":"area","clip":true,"interpolate":"monotone","strokeWidth":0.8},"encoding":{"x":{"field":"x","type":"quantitative","scale":{"domain":[0.2,0.4],"nice":false,"zero":false},"axis":{"values":[0.25,0.35],"labels":false,"title":null}},"y":{"field":"lo","type":"quantitative","stack":null,"scale":{"domain":[1.46,1.93],"nice":false,"zero":false},"axis":{"values":[1.6,1.8],"labels":false,"title":null}},"y2":{"field":"hi"},"fill":{"field":"l","type":"nominal","scale":{"domain":[3,2,1],"range":["#f6d9d1","#e3a293","#b52a04"]},"legend":null},"stroke":{"condition":{"test":"datum.l==3","value":"#d9452b"},"value":"transparent"}}}
]},
{"width":48,"height":60,"data":{"name":"d"},"transform":[{"filter":"datum.p=='b'"}],"mark":{"type":"line","interpolate":"monotone","strokeWidth":1,"clip":true},"encoding":{"x":{"field":"x","type":"quantitative","scale":{"domain":[1.43,1.9],"nice":false,"zero":false},"axis":{"values":[1.6,1.8],"labels":false,"title":null}},"y":{"field":"y","type":"quantitative","scale":{"domain":[0,1.08],"nice":false},"axis":null},"stroke":{"field":"s","type":"nominal","scale":{"domain":["g","r","b"],"range":["#3c9b3c","#e8573c","#3b3bff"]},"legend":null}}},
{"width":48,"height":60,"view":{"stroke":null},"data":{"values":[]},"mark":"point"},

{"width":48,"height":60,"data":{"name":"c"},"layer":[
{"transform":[{"filter":"datum.p=='mg' && datum.l==3"}],"mark":{"type":"area","clip":true,"interpolate":"monotone","fill":"transparent","stroke":"#3a9a3a","strokeWidth":2},"encoding":{"x":{"field":"x","type":"quantitative","scale":{"domain":[0.05,1.0],"nice":false,"zero":false},"axis":{"values":[0.3,0.7],"format":".1f","title":"Ωₘ₀"}},"y":{"field":"lo","type":"quantitative","stack":null,"scale":{"domain":[0.133,0.529],"nice":false,"zero":false},"axis":{"values":[0.2,0.4],"format":".1f","title":"γₘ"}},"y2":{"field":"hi"}}},
{"transform":[{"filter":"datum.p=='mg'"}],"mark":{"type":"area","clip":true,"interpolate":"monotone","strokeWidth":0.8},"encoding":{"x":{"field":"x","type":"quantitative","scale":{"domain":[0.05,1.0],"nice":false,"zero":false},"axis":{"values":[0.3,0.7],"format":".1f","title":"Ωₘ₀"}},"y":{"field":"lo","type":"quantitative","stack":null,"scale":{"domain":[0.133,0.529],"nice":false,"zero":false},"axis":{"values":[0.2,0.4],"format":".1f","title":"γₘ"}},"y2":{"field":"hi"},"fill":{"field":"l","type":"nominal","scale":{"domain":[3,2,1],"range":["#f6d9d1","#e3a293","#b52a04"]},"legend":null},"stroke":{"condition":{"test":"datum.l==3","value":"#d9452b"},"value":"transparent"}}}
]},
{"width":48,"height":60,"data":{"name":"c"},"layer":[
{"transform":[{"filter":"datum.p=='kg' && datum.l==3"}],"mark":{"type":"area","clip":true,"interpolate":"monotone","fill":"transparent","stroke":"#3a9a3a","strokeWidth":2},"encoding":{"x":{"field":"x","type":"quantitative","scale":{"domain":[-2.1,2.1],"nice":false,"zero":false},"axis":{"values":[-1,0,1],"format":"d","labelExpr":"datum.value == 0 ? '' : datum.label","title":"Ωₖ₀"}},"y":{"field":"lo","type":"quantitative","stack":null,"scale":{"domain":[0.133,0.529],"nice":false,"zero":false},"axis":{"values":[0.2,0.4],"labels":false,"title":null}},"y2":{"field":"hi"}}},
{"transform":[{"filter":"datum.p=='kg'"}],"mark":{"type":"area","clip":true,"interpolate":"monotone","strokeWidth":0.8},"encoding":{"x":{"field":"x","type":"quantitative","scale":{"domain":[-2.1,2.1],"nice":false,"zero":false},"axis":{"values":[-1,0,1],"format":"d","labelExpr":"datum.value == 0 ? '' : datum.label","title":"Ωₖ₀"}},"y":{"field":"lo","type":"quantitative","stack":null,"scale":{"domain":[0.133,0.529],"nice":false,"zero":false},"axis":{"values":[0.2,0.4],"labels":false,"title":null}},"y2":{"field":"hi"},"fill":{"field":"l","type":"nominal","scale":{"domain":[3,2,1],"range":["#f6d9d1","#e3a293","#b52a04"]},"legend":null},"stroke":{"condition":{"test":"datum.l==3","value":"#d9452b"},"value":"transparent"}}},
{"data":{"values":[{"v":0}]},"mark":{"type":"rule","stroke":"#e8264f","strokeWidth":1,"strokeDash":[4,1.5,1,1.5]},"encoding":{"x":{"field":"v","type":"quantitative","scale":{"domain":[-2.1,2.1],"nice":false,"zero":false},"axis":{"values":[-1,0,1],"format":"d","labelExpr":"datum.value == 0 ? '' : datum.label","title":"Ωₖ₀"}}}}
]},
{"width":48,"height":60,"data":{"name":"c"},"layer":[
{"transform":[{"filter":"datum.p=='sg' && datum.l==3"}],"mark":{"type":"area","clip":true,"interpolate":"monotone","fill":"transparent","stroke":"#3a9a3a","strokeWidth":2},"encoding":{"x":{"field":"x","type":"quantitative","scale":{"domain":[0.2,0.4],"nice":false,"zero":false},"axis":{"values":[0.25,0.35],"format":".2f","title":"σᵢₙₜ,ₘ"}},"y":{"field":"lo","type":"quantitative","stack":null,"scale":{"domain":[0.133,0.529],"nice":false,"zero":false},"axis":{"values":[0.2,0.4],"labels":false,"title":null}},"y2":{"field":"hi"}}},
{"transform":[{"filter":"datum.p=='sg'"}],"mark":{"type":"area","clip":true,"interpolate":"monotone","strokeWidth":0.8},"encoding":{"x":{"field":"x","type":"quantitative","scale":{"domain":[0.2,0.4],"nice":false,"zero":false},"axis":{"values":[0.25,0.35],"format":".2f","title":"σᵢₙₜ,ₘ"}},"y":{"field":"lo","type":"quantitative","stack":null,"scale":{"domain":[0.133,0.529],"nice":false,"zero":false},"axis":{"values":[0.2,0.4],"labels":false,"title":null}},"y2":{"field":"hi"},"fill":{"field":"l","type":"nominal","scale":{"domain":[3,2,1],"range":["#f6d9d1","#e3a293","#b52a04"]},"legend":null},"stroke":{"condition":{"test":"datum.l==3","value":"#d9452b"},"value":"transparent"}}}
]},
{"width":48,"height":60,"data":{"name":"c"},"layer":[
{"transform":[{"filter":"datum.p=='bg' && datum.l==3"}],"mark":{"type":"area","clip":true,"interpolate":"monotone","fill":"transparent","stroke":"#3a9a3a","strokeWidth":2},"encoding":{"x":{"field":"x","type":"quantitative","scale":{"domain":[1.43,1.9],"nice":false,"zero":false},"axis":{"values":[1.6,1.8],"format":".1f","title":"βₘ"}},"y":{"field":"lo","type":"quantitative","stack":null,"scale":{"domain":[0.133,0.529],"nice":false,"zero":false},"axis":{"values":[0.2,0.4],"labels":false,"title":null}},"y2":{"field":"hi"}}},
{"transform":[{"filter":"datum.p=='bg'"}],"mark":{"type":"area","clip":true,"interpolate":"monotone","strokeWidth":0.8},"encoding":{"x":{"field":"x","type":"quantitative","scale":{"domain":[1.43,1.9],"nice":false,"zero":false},"axis":{"values":[1.6,1.8],"format":".1f","title":"βₘ"}},"y":{"field":"lo","type":"quantitative","stack":null,"scale":{"domain":[0.133,0.529],"nice":false,"zero":false},"axis":{"values":[0.2,0.4],"labels":false,"title":null}},"y2":{"field":"hi"},"fill":{"field":"l","type":"nominal","scale":{"domain":[3,2,1],"range":["#f6d9d1","#e3a293","#b52a04"]},"legend":null},"stroke":{"condition":{"test":"datum.l==3","value":"#d9452b"},"value":"transparent"}}}
]},
{"width":48,"height":60,"data":{"name":"d"},"transform":[{"filter":"datum.p=='g'"}],"mark":{"type":"line","interpolate":"monotone","strokeWidth":1,"clip":true},"encoding":{"x":{"field":"x","type":"quantitative","scale":{"domain":[0.12,0.55],"nice":false,"zero":false},"axis":{"values":[0.2,0.4],"format":".1f","title":"γₘ"}},"y":{"field":"y","type":"quantitative","scale":{"domain":[0,1.08],"nice":false},"axis":null},"stroke":{"field":"s","type":"nominal","scale":{"domain":["g","r","b"],"range":["#3c9b3c","#e8573c","#3b3bff"]},"legend":null}}}
]
}
